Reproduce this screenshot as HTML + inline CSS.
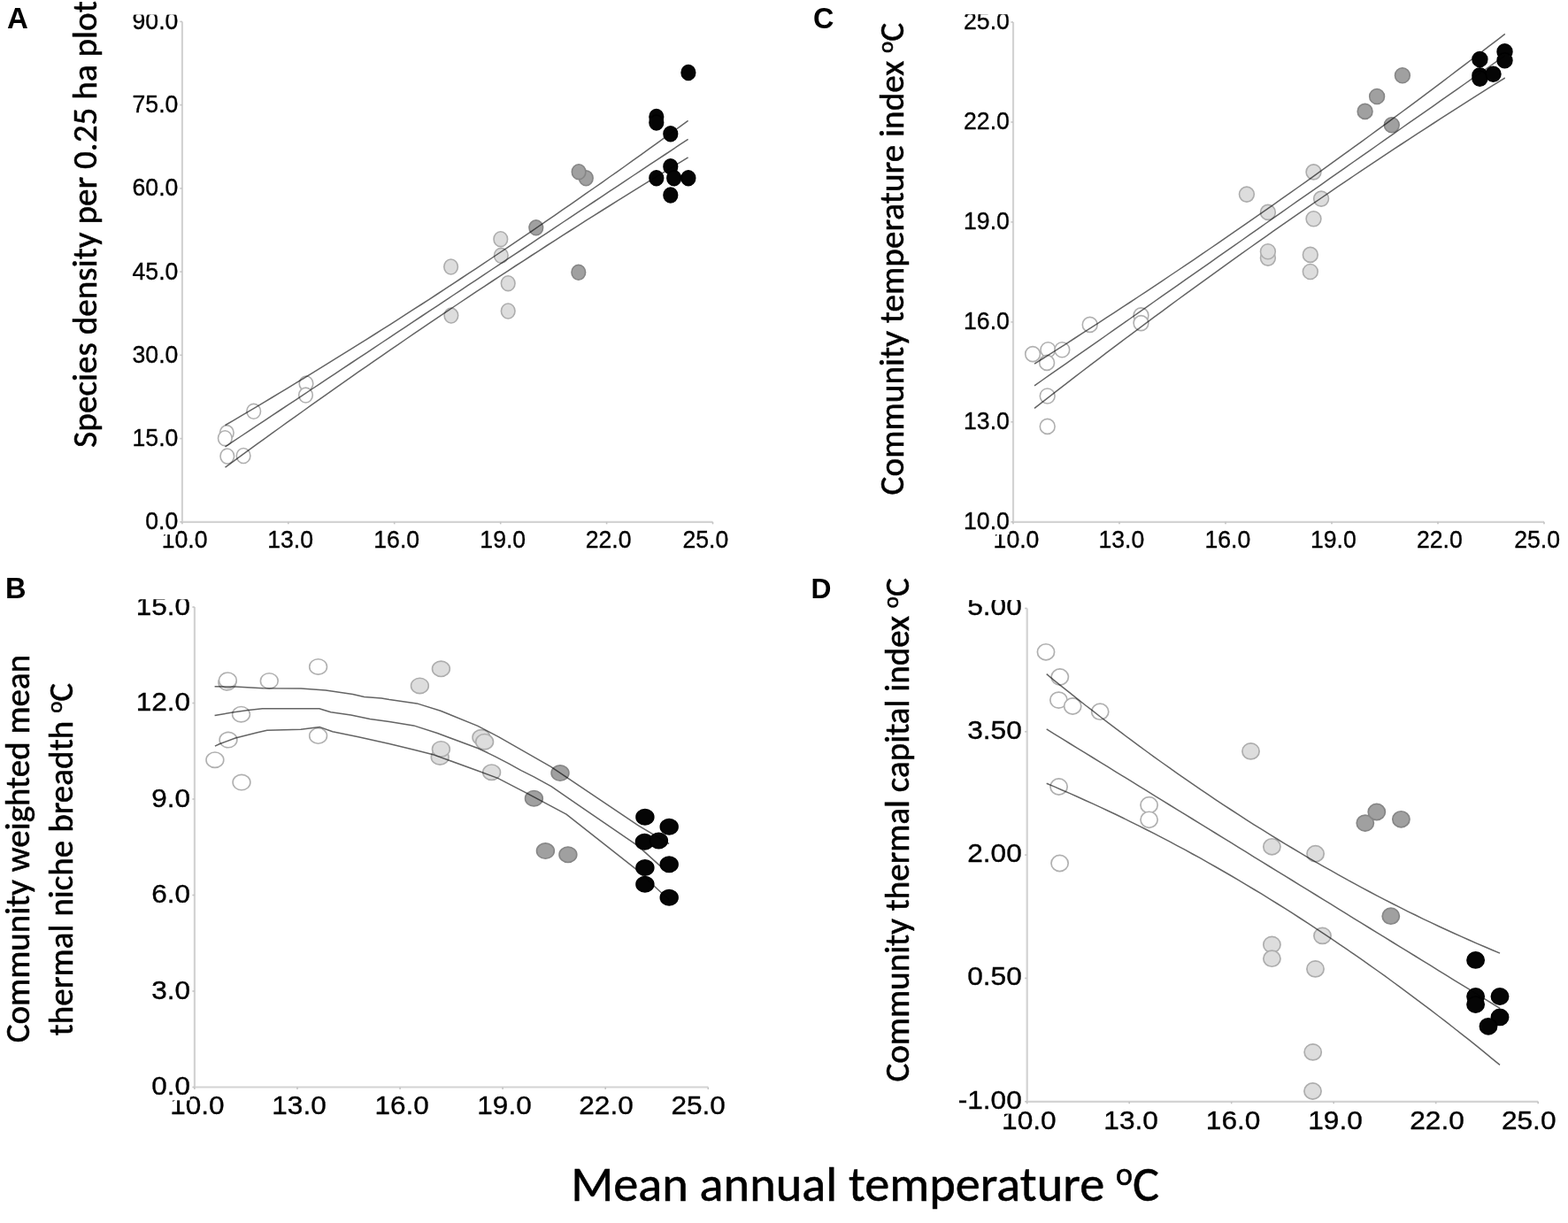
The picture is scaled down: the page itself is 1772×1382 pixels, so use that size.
<!DOCTYPE html>
<html><head><meta charset="utf-8"><title>Figure</title>
<style>html,body{margin:0;padding:0;background:#fff;}svg{display:block;}</style>
</head><body>
<svg width="1772" height="1382" viewBox="0 0 1772 1382">
<rect width="1772" height="1382" fill="#ffffff"/>
<path d="M205.9,24.4V589.8H805.5" fill="none" stroke="#d3d3d3" stroke-width="2.2"/>
<path d="M203.4,24.4h2.5" stroke="#c4c4c4" stroke-width="1.6"/>
<path d="M203.4,118.6h2.5" stroke="#c4c4c4" stroke-width="1.6"/>
<path d="M203.4,212.9h2.5" stroke="#c4c4c4" stroke-width="1.6"/>
<path d="M203.4,307.1h2.5" stroke="#c4c4c4" stroke-width="1.6"/>
<path d="M203.4,401.3h2.5" stroke="#c4c4c4" stroke-width="1.6"/>
<path d="M203.4,495.6h2.5" stroke="#c4c4c4" stroke-width="1.6"/>
<path d="M203.4,589.8h2.5" stroke="#c4c4c4" stroke-width="1.6"/>
<path d="M205.9,589.8v2.5" stroke="#c4c4c4" stroke-width="1.6"/>
<path d="M325.8,589.8v2.5" stroke="#c4c4c4" stroke-width="1.6"/>
<path d="M445.7,589.8v2.5" stroke="#c4c4c4" stroke-width="1.6"/>
<path d="M565.7,589.8v2.5" stroke="#c4c4c4" stroke-width="1.6"/>
<path d="M685.6,589.8v2.5" stroke="#c4c4c4" stroke-width="1.6"/>
<path d="M805.5,589.8v2.5" stroke="#c4c4c4" stroke-width="1.6"/>
<ellipse cx="256.3" cy="489.1" rx="7.80" ry="8.45" fill="#ffffff" stroke="#b0b0b0" stroke-width="1.6"/>
<ellipse cx="254.3" cy="495.2" rx="7.80" ry="8.45" fill="#ffffff" stroke="#b0b0b0" stroke-width="1.6"/>
<ellipse cx="256.8" cy="515.5" rx="7.80" ry="8.45" fill="#ffffff" stroke="#b0b0b0" stroke-width="1.6"/>
<ellipse cx="275.1" cy="515.0" rx="7.80" ry="8.45" fill="#ffffff" stroke="#b0b0b0" stroke-width="1.6"/>
<ellipse cx="286.7" cy="464.8" rx="7.80" ry="8.45" fill="#ffffff" stroke="#b0b0b0" stroke-width="1.6"/>
<ellipse cx="346.0" cy="433.4" rx="7.80" ry="8.45" fill="#ffffff" stroke="#b0b0b0" stroke-width="1.6"/>
<ellipse cx="345.5" cy="446.6" rx="7.80" ry="8.45" fill="#ffffff" stroke="#b0b0b0" stroke-width="1.6"/>
<ellipse cx="509.6" cy="301.5" rx="7.80" ry="8.45" fill="#dddddd" stroke="#adadad" stroke-width="1.6"/>
<ellipse cx="509.9" cy="356.6" rx="7.80" ry="8.45" fill="#dddddd" stroke="#adadad" stroke-width="1.6"/>
<ellipse cx="565.8" cy="270.2" rx="7.80" ry="8.45" fill="#dddddd" stroke="#adadad" stroke-width="1.6"/>
<ellipse cx="566.3" cy="288.8" rx="7.80" ry="8.45" fill="#dddddd" stroke="#adadad" stroke-width="1.6"/>
<ellipse cx="574.2" cy="320.2" rx="7.80" ry="8.45" fill="#dddddd" stroke="#adadad" stroke-width="1.6"/>
<ellipse cx="574.2" cy="351.5" rx="7.80" ry="8.45" fill="#dddddd" stroke="#adadad" stroke-width="1.6"/>
<ellipse cx="605.8" cy="257.2" rx="7.80" ry="8.45" fill="#a0a0a0" stroke="#868686" stroke-width="1.6"/>
<ellipse cx="653.8" cy="307.8" rx="7.80" ry="8.45" fill="#a0a0a0" stroke="#868686" stroke-width="1.6"/>
<ellipse cx="662.3" cy="201.3" rx="7.80" ry="8.45" fill="#a0a0a0" stroke="#868686" stroke-width="1.6"/>
<ellipse cx="654.1" cy="194.2" rx="7.80" ry="8.45" fill="#a0a0a0" stroke="#868686" stroke-width="1.6"/>
<ellipse cx="777.9" cy="81.9" rx="7.80" ry="8.45" fill="#050505" stroke="#000000" stroke-width="1.6"/>
<ellipse cx="741.8" cy="132.0" rx="7.80" ry="8.45" fill="#050505" stroke="#000000" stroke-width="1.6"/>
<ellipse cx="741.8" cy="138.4" rx="7.80" ry="8.45" fill="#050505" stroke="#000000" stroke-width="1.6"/>
<ellipse cx="757.8" cy="151.2" rx="7.80" ry="8.45" fill="#050505" stroke="#000000" stroke-width="1.6"/>
<ellipse cx="757.8" cy="188.3" rx="7.80" ry="8.45" fill="#050505" stroke="#000000" stroke-width="1.6"/>
<ellipse cx="741.8" cy="201.3" rx="7.80" ry="8.45" fill="#050505" stroke="#000000" stroke-width="1.6"/>
<ellipse cx="761.7" cy="201.3" rx="7.80" ry="8.45" fill="#050505" stroke="#000000" stroke-width="1.6"/>
<ellipse cx="777.9" cy="201.3" rx="7.80" ry="8.45" fill="#050505" stroke="#000000" stroke-width="1.6"/>
<ellipse cx="757.8" cy="220.5" rx="7.80" ry="8.45" fill="#050505" stroke="#000000" stroke-width="1.6"/>
<path d="M254.5,504.8 L263.4,498.9 L272.2,493.0 L281.1,487.1 L290.0,481.2 L298.8,475.3 L307.7,469.4 L316.6,463.5 L325.4,457.6 L334.3,451.8 L343.2,445.9 L352.0,440.0 L360.9,434.1 L369.8,428.2 L378.6,422.3 L387.5,416.4 L396.4,410.5 L405.2,404.6 L414.1,398.8 L423.0,392.9 L431.8,387.0 L440.7,381.1 L449.6,375.2 L458.4,369.3 L467.3,363.4 L476.2,357.5 L485.0,351.6 L493.9,345.8 L502.8,339.9 L511.6,334.0 L520.5,328.1 L529.3,322.2 L538.2,316.3 L547.1,310.4 L555.9,304.5 L564.8,298.6 L573.7,292.7 L582.5,286.9 L591.4,281.0 L600.3,275.1 L609.1,269.2 L618.0,263.3 L626.9,257.4 L635.7,251.5 L644.6,245.6 L653.5,239.7 L662.3,233.9 L671.2,228.0 L680.1,222.1 L688.9,216.2 L697.8,210.3 L706.7,204.4 L715.5,198.5 L724.4,192.6 L733.3,186.7 L742.1,180.9 L751.0,175.0 L759.9,169.1 L768.7,163.2 L777.6,157.3" fill="none" stroke="#646464" stroke-width="1.5" stroke-linejoin="round" style="mix-blend-mode:multiply"/>
<path d="M254.5,480.5 L263.4,475.3 L272.2,470.1 L281.1,464.8 L290.0,459.6 L298.8,454.3 L307.7,449.0 L316.6,443.7 L325.4,438.3 L334.3,432.9 L343.2,427.5 L352.0,422.1 L360.9,416.7 L369.8,411.2 L378.6,405.7 L387.5,400.2 L396.4,394.7 L405.2,389.2 L414.1,383.6 L423.0,378.0 L431.8,372.4 L440.7,366.8 L449.6,361.1 L458.4,355.4 L467.3,349.7 L476.2,344.0 L485.0,338.3 L493.9,332.5 L502.8,326.7 L511.6,320.9 L520.5,315.0 L529.3,309.2 L538.2,303.3 L547.1,297.4 L555.9,291.5 L564.8,285.5 L573.7,279.6 L582.5,273.6 L591.4,267.6 L600.3,261.6 L609.1,255.5 L618.0,249.4 L626.9,243.3 L635.7,237.2 L644.6,231.1 L653.5,224.9 L662.3,218.7 L671.2,212.5 L680.1,206.3 L688.9,200.0 L697.8,193.8 L706.7,187.5 L715.5,181.1 L724.4,174.8 L733.3,168.4 L742.1,162.1 L751.0,155.6 L759.9,149.2 L768.7,142.8 L777.6,136.3" fill="none" stroke="#646464" stroke-width="1.5" stroke-linejoin="round" style="mix-blend-mode:multiply"/>
<path d="M254.5,528.1 L263.4,521.6 L272.2,515.1 L281.1,508.6 L290.0,502.2 L298.8,495.8 L307.7,489.4 L316.6,483.0 L325.4,476.6 L334.3,470.3 L343.2,464.0 L352.0,457.7 L360.9,451.4 L369.8,445.1 L378.6,438.8 L387.5,432.6 L396.4,426.4 L405.2,420.2 L414.1,414.1 L423.0,407.9 L431.8,401.8 L440.7,395.7 L449.6,389.6 L458.4,383.5 L467.3,377.4 L476.2,371.4 L485.0,365.4 L493.9,359.4 L502.8,353.4 L511.6,347.5 L520.5,341.5 L529.3,335.6 L538.2,329.7 L547.1,323.8 L555.9,318.0 L564.8,312.1 L573.7,306.3 L582.5,300.5 L591.4,294.8 L600.3,289.0 L609.1,283.3 L618.0,277.5 L626.9,271.8 L635.7,266.1 L644.6,260.5 L653.5,254.8 L662.3,249.2 L671.2,243.6 L680.1,238.0 L688.9,232.5 L697.8,226.9 L706.7,221.4 L715.5,215.9 L724.4,210.4 L733.3,204.9 L742.1,199.5 L751.0,194.1 L759.9,188.6 L768.7,183.3 L777.6,177.9" fill="none" stroke="#646464" stroke-width="1.5" stroke-linejoin="round" style="mix-blend-mode:multiply"/>
<text transform="translate(182.67,618.80) scale(0.9750,1)" font-family="'Liberation Sans', Arial, sans-serif" font-size="27.30" stroke="#000" stroke-width="0.35">10.0</text>
<text transform="translate(302.27,618.80) scale(0.9750,1)" font-family="'Liberation Sans', Arial, sans-serif" font-size="27.30" stroke="#000" stroke-width="0.35">13.0</text>
<text transform="translate(422.32,618.80) scale(0.9750,1)" font-family="'Liberation Sans', Arial, sans-serif" font-size="27.30" stroke="#000" stroke-width="0.35">16.0</text>
<text transform="translate(542.37,618.80) scale(0.9750,1)" font-family="'Liberation Sans', Arial, sans-serif" font-size="27.30" stroke="#000" stroke-width="0.35">19.0</text>
<text transform="translate(661.65,618.80) scale(0.9750,1)" font-family="'Liberation Sans', Arial, sans-serif" font-size="27.30" stroke="#000" stroke-width="0.35">22.0</text>
<text transform="translate(771.50,618.80) scale(0.9750,1)" font-family="'Liberation Sans', Arial, sans-serif" font-size="27.30" stroke="#000" stroke-width="0.35">25.0</text>
<rect x="140" y="591.5" width="60.5" height="12.5" fill="#fff"/>
<text transform="translate(149.53,33.00) scale(0.9750,1)" font-family="'Liberation Sans', Arial, sans-serif" font-size="27.30" stroke="#000" stroke-width="0.35">90.0</text>
<text transform="translate(149.53,127.23) scale(0.9750,1)" font-family="'Liberation Sans', Arial, sans-serif" font-size="27.30" stroke="#000" stroke-width="0.35">75.0</text>
<text transform="translate(149.53,221.47) scale(0.9750,1)" font-family="'Liberation Sans', Arial, sans-serif" font-size="27.30" stroke="#000" stroke-width="0.35">60.0</text>
<text transform="translate(149.53,315.70) scale(0.9750,1)" font-family="'Liberation Sans', Arial, sans-serif" font-size="27.30" stroke="#000" stroke-width="0.35">45.0</text>
<text transform="translate(149.53,409.93) scale(0.9750,1)" font-family="'Liberation Sans', Arial, sans-serif" font-size="27.30" stroke="#000" stroke-width="0.35">30.0</text>
<text transform="translate(149.53,504.17) scale(0.9750,1)" font-family="'Liberation Sans', Arial, sans-serif" font-size="27.30" stroke="#000" stroke-width="0.35">15.0</text>
<text transform="translate(164.30,598.40) scale(0.9750,1)" font-family="'Liberation Sans', Arial, sans-serif" font-size="27.30" stroke="#000" stroke-width="0.35">0.0</text>
<path d="M1145.0,25.0V589.8H1745.0" fill="none" stroke="#d3d3d3" stroke-width="2.2"/>
<path d="M1142.5,25.0h2.5" stroke="#c4c4c4" stroke-width="1.6"/>
<path d="M1142.5,138.0h2.5" stroke="#c4c4c4" stroke-width="1.6"/>
<path d="M1142.5,250.9h2.5" stroke="#c4c4c4" stroke-width="1.6"/>
<path d="M1142.5,363.9h2.5" stroke="#c4c4c4" stroke-width="1.6"/>
<path d="M1142.5,476.8h2.5" stroke="#c4c4c4" stroke-width="1.6"/>
<path d="M1142.5,589.8h2.5" stroke="#c4c4c4" stroke-width="1.6"/>
<path d="M1145.0,589.8v2.5" stroke="#c4c4c4" stroke-width="1.6"/>
<path d="M1265.0,589.8v2.5" stroke="#c4c4c4" stroke-width="1.6"/>
<path d="M1385.0,589.8v2.5" stroke="#c4c4c4" stroke-width="1.6"/>
<path d="M1505.0,589.8v2.5" stroke="#c4c4c4" stroke-width="1.6"/>
<path d="M1625.0,589.8v2.5" stroke="#c4c4c4" stroke-width="1.6"/>
<path d="M1745.0,589.8v2.5" stroke="#c4c4c4" stroke-width="1.6"/>
<ellipse cx="1167.1" cy="400.1" rx="8.40" ry="8.50" fill="#ffffff" stroke="#b0b0b0" stroke-width="1.6"/>
<ellipse cx="1184.4" cy="395.2" rx="8.40" ry="8.50" fill="#ffffff" stroke="#b0b0b0" stroke-width="1.6"/>
<ellipse cx="1183.1" cy="409.9" rx="8.40" ry="8.50" fill="#ffffff" stroke="#b0b0b0" stroke-width="1.6"/>
<ellipse cx="1200.3" cy="395.2" rx="8.40" ry="8.50" fill="#ffffff" stroke="#b0b0b0" stroke-width="1.6"/>
<ellipse cx="1231.7" cy="366.9" rx="8.40" ry="8.50" fill="#ffffff" stroke="#b0b0b0" stroke-width="1.6"/>
<ellipse cx="1289.5" cy="356.4" rx="8.40" ry="8.50" fill="#ffffff" stroke="#b0b0b0" stroke-width="1.6"/>
<ellipse cx="1289.5" cy="365.1" rx="8.40" ry="8.50" fill="#ffffff" stroke="#b0b0b0" stroke-width="1.6"/>
<ellipse cx="1183.7" cy="447.5" rx="8.40" ry="8.50" fill="#ffffff" stroke="#b0b0b0" stroke-width="1.6"/>
<ellipse cx="1183.7" cy="481.9" rx="8.40" ry="8.50" fill="#ffffff" stroke="#b0b0b0" stroke-width="1.6"/>
<ellipse cx="1408.9" cy="219.6" rx="8.40" ry="8.50" fill="#dddddd" stroke="#adadad" stroke-width="1.6"/>
<ellipse cx="1432.9" cy="239.9" rx="8.40" ry="8.50" fill="#dddddd" stroke="#adadad" stroke-width="1.6"/>
<ellipse cx="1432.9" cy="291.6" rx="8.40" ry="8.50" fill="#dddddd" stroke="#adadad" stroke-width="1.6"/>
<ellipse cx="1432.9" cy="284.2" rx="8.40" ry="8.50" fill="#dddddd" stroke="#adadad" stroke-width="1.6"/>
<ellipse cx="1484.5" cy="194.4" rx="8.40" ry="8.50" fill="#dddddd" stroke="#adadad" stroke-width="1.6"/>
<ellipse cx="1493.1" cy="224.6" rx="8.40" ry="8.50" fill="#dddddd" stroke="#adadad" stroke-width="1.6"/>
<ellipse cx="1484.5" cy="247.3" rx="8.40" ry="8.50" fill="#dddddd" stroke="#adadad" stroke-width="1.6"/>
<ellipse cx="1480.8" cy="287.9" rx="8.40" ry="8.50" fill="#dddddd" stroke="#adadad" stroke-width="1.6"/>
<ellipse cx="1480.8" cy="307.0" rx="8.40" ry="8.50" fill="#dddddd" stroke="#adadad" stroke-width="1.6"/>
<ellipse cx="1584.9" cy="85.3" rx="8.40" ry="8.50" fill="#a0a0a0" stroke="#868686" stroke-width="1.6"/>
<ellipse cx="1556.1" cy="109.0" rx="8.40" ry="8.50" fill="#a0a0a0" stroke="#868686" stroke-width="1.6"/>
<ellipse cx="1542.6" cy="125.9" rx="8.40" ry="8.50" fill="#a0a0a0" stroke="#868686" stroke-width="1.6"/>
<ellipse cx="1572.8" cy="141.2" rx="8.40" ry="8.50" fill="#a0a0a0" stroke="#868686" stroke-width="1.6"/>
<ellipse cx="1672.4" cy="67.0" rx="8.40" ry="8.50" fill="#050505" stroke="#000000" stroke-width="1.6"/>
<ellipse cx="1672.4" cy="85.3" rx="8.40" ry="8.50" fill="#050505" stroke="#000000" stroke-width="1.6"/>
<ellipse cx="1672.4" cy="88.7" rx="8.40" ry="8.50" fill="#050505" stroke="#000000" stroke-width="1.6"/>
<ellipse cx="1687.5" cy="83.8" rx="8.40" ry="8.50" fill="#050505" stroke="#000000" stroke-width="1.6"/>
<ellipse cx="1700.5" cy="58.4" rx="8.40" ry="8.50" fill="#050505" stroke="#000000" stroke-width="1.6"/>
<ellipse cx="1700.5" cy="68.2" rx="8.40" ry="8.50" fill="#050505" stroke="#000000" stroke-width="1.6"/>
<path d="M1169.0,435.8 L1178.0,429.5 L1187.0,423.2 L1196.0,416.9 L1205.1,410.6 L1214.1,404.2 L1223.1,397.9 L1232.1,391.6 L1241.1,385.3 L1250.1,379.0 L1259.1,372.6 L1268.1,366.3 L1277.2,360.0 L1286.2,353.7 L1295.2,347.3 L1304.2,341.0 L1313.2,334.7 L1322.2,328.4 L1331.2,322.1 L1340.3,315.7 L1349.3,309.4 L1358.3,303.1 L1367.3,296.8 L1376.3,290.4 L1385.3,284.1 L1394.3,277.8 L1403.4,271.5 L1412.4,265.2 L1421.4,258.8 L1430.4,252.5 L1439.4,246.2 L1448.4,239.9 L1457.4,233.5 L1466.4,227.2 L1475.5,220.9 L1484.5,214.6 L1493.5,208.3 L1502.5,201.9 L1511.5,195.6 L1520.5,189.3 L1529.5,183.0 L1538.6,176.6 L1547.6,170.3 L1556.6,164.0 L1565.6,157.7 L1574.6,151.4 L1583.6,145.0 L1592.6,138.7 L1601.7,132.4 L1610.7,126.1 L1619.7,119.8 L1628.7,113.4 L1637.7,107.1 L1646.7,100.8 L1655.7,94.5 L1664.7,88.1 L1673.8,81.8 L1682.8,75.5 L1691.8,69.2 L1700.8,62.9" fill="none" stroke="#646464" stroke-width="1.5" stroke-linejoin="round" style="mix-blend-mode:multiply"/>
<path d="M1169.0,411.2 L1178.0,405.5 L1187.0,399.8 L1196.0,394.1 L1205.1,388.3 L1214.1,382.5 L1223.1,376.7 L1232.1,370.9 L1241.1,365.1 L1250.1,359.2 L1259.1,353.3 L1268.1,347.4 L1277.2,341.5 L1286.2,335.5 L1295.2,329.6 L1304.2,323.6 L1313.2,317.6 L1322.2,311.5 L1331.2,305.5 L1340.3,299.4 L1349.3,293.3 L1358.3,287.1 L1367.3,281.0 L1376.3,274.8 L1385.3,268.6 L1394.3,262.4 L1403.4,256.2 L1412.4,249.9 L1421.4,243.7 L1430.4,237.4 L1439.4,231.1 L1448.4,224.7 L1457.4,218.3 L1466.4,212.0 L1475.5,205.6 L1484.5,199.1 L1493.5,192.7 L1502.5,186.2 L1511.5,179.7 L1520.5,173.2 L1529.5,166.7 L1538.6,160.1 L1547.6,153.5 L1556.6,146.9 L1565.6,140.3 L1574.6,133.6 L1583.6,127.0 L1592.6,120.3 L1601.7,113.6 L1610.7,106.8 L1619.7,100.1 L1628.7,93.3 L1637.7,86.5 L1646.7,79.7 L1655.7,72.9 L1664.7,66.0 L1673.8,59.1 L1682.8,52.2 L1691.8,45.3 L1700.8,38.3" fill="none" stroke="#646464" stroke-width="1.5" stroke-linejoin="round" style="mix-blend-mode:multiply"/>
<path d="M1169.0,461.4 L1178.0,454.3 L1187.0,447.3 L1196.0,440.3 L1205.1,433.4 L1214.1,426.4 L1223.1,419.5 L1232.1,412.6 L1241.1,405.8 L1250.1,398.9 L1259.1,392.1 L1268.1,385.3 L1277.2,378.6 L1286.2,371.8 L1295.2,365.1 L1304.2,358.4 L1313.2,351.8 L1322.2,345.1 L1331.2,338.5 L1340.3,331.9 L1349.3,325.3 L1358.3,318.8 L1367.3,312.3 L1376.3,305.8 L1385.3,299.3 L1394.3,292.8 L1403.4,286.4 L1412.4,280.0 L1421.4,273.6 L1430.4,267.3 L1439.4,260.9 L1448.4,254.6 L1457.4,248.4 L1466.4,242.1 L1475.5,235.9 L1484.5,229.7 L1493.5,223.5 L1502.5,217.3 L1511.5,211.2 L1520.5,205.1 L1529.5,199.0 L1538.6,192.9 L1547.6,186.9 L1556.6,180.9 L1565.6,174.9 L1574.6,168.9 L1583.6,163.0 L1592.6,157.1 L1601.7,151.2 L1610.7,145.3 L1619.7,139.5 L1628.7,133.6 L1637.7,127.8 L1646.7,122.1 L1655.7,116.3 L1664.7,110.6 L1673.8,104.9 L1682.8,99.2 L1691.8,93.6 L1700.8,88.0" fill="none" stroke="#646464" stroke-width="1.5" stroke-linejoin="round" style="mix-blend-mode:multiply"/>
<text transform="translate(1122.62,619.30) scale(0.9750,1)" font-family="'Liberation Sans', Arial, sans-serif" font-size="27.30" stroke="#000" stroke-width="0.35">10.0</text>
<text transform="translate(1241.42,619.30) scale(0.9750,1)" font-family="'Liberation Sans', Arial, sans-serif" font-size="27.30" stroke="#000" stroke-width="0.35">13.0</text>
<text transform="translate(1361.42,619.30) scale(0.9750,1)" font-family="'Liberation Sans', Arial, sans-serif" font-size="27.30" stroke="#000" stroke-width="0.35">16.0</text>
<text transform="translate(1480.92,619.30) scale(0.9750,1)" font-family="'Liberation Sans', Arial, sans-serif" font-size="27.30" stroke="#000" stroke-width="0.35">19.0</text>
<text transform="translate(1600.95,619.30) scale(0.9750,1)" font-family="'Liberation Sans', Arial, sans-serif" font-size="27.30" stroke="#000" stroke-width="0.35">22.0</text>
<text transform="translate(1711.25,619.30) scale(0.9750,1)" font-family="'Liberation Sans', Arial, sans-serif" font-size="27.30" stroke="#000" stroke-width="0.35">25.0</text>
<rect x="1075" y="591.5" width="65.5" height="12.5" fill="#fff"/>
<text transform="translate(1089.03,33.30) scale(0.9750,1)" font-family="'Liberation Sans', Arial, sans-serif" font-size="27.30" stroke="#000" stroke-width="0.35">25.0</text>
<text transform="translate(1089.03,146.26) scale(0.9750,1)" font-family="'Liberation Sans', Arial, sans-serif" font-size="27.30" stroke="#000" stroke-width="0.35">22.0</text>
<text transform="translate(1089.03,259.22) scale(0.9750,1)" font-family="'Liberation Sans', Arial, sans-serif" font-size="27.30" stroke="#000" stroke-width="0.35">19.0</text>
<text transform="translate(1089.03,372.18) scale(0.9750,1)" font-family="'Liberation Sans', Arial, sans-serif" font-size="27.30" stroke="#000" stroke-width="0.35">16.0</text>
<text transform="translate(1089.03,485.14) scale(0.9750,1)" font-family="'Liberation Sans', Arial, sans-serif" font-size="27.30" stroke="#000" stroke-width="0.35">13.0</text>
<text transform="translate(1089.03,598.10) scale(0.9750,1)" font-family="'Liberation Sans', Arial, sans-serif" font-size="27.30" stroke="#000" stroke-width="0.35">10.0</text>
<path d="M219.9,686.0V1228.5H800.3" fill="none" stroke="#d3d3d3" stroke-width="2.2"/>
<path d="M217.4,686.0h2.5" stroke="#c4c4c4" stroke-width="1.6"/>
<path d="M217.4,794.5h2.5" stroke="#c4c4c4" stroke-width="1.6"/>
<path d="M217.4,903.0h2.5" stroke="#c4c4c4" stroke-width="1.6"/>
<path d="M217.4,1011.5h2.5" stroke="#c4c4c4" stroke-width="1.6"/>
<path d="M217.4,1120.0h2.5" stroke="#c4c4c4" stroke-width="1.6"/>
<path d="M217.4,1228.5h2.5" stroke="#c4c4c4" stroke-width="1.6"/>
<path d="M219.9,1228.5v2.5" stroke="#c4c4c4" stroke-width="1.6"/>
<path d="M336.0,1228.5v2.5" stroke="#c4c4c4" stroke-width="1.6"/>
<path d="M452.1,1228.5v2.5" stroke="#c4c4c4" stroke-width="1.6"/>
<path d="M568.1,1228.5v2.5" stroke="#c4c4c4" stroke-width="1.6"/>
<path d="M684.2,1228.5v2.5" stroke="#c4c4c4" stroke-width="1.6"/>
<path d="M800.3,1228.5v2.5" stroke="#c4c4c4" stroke-width="1.6"/>
<ellipse cx="256.8" cy="771.2" rx="9.90" ry="8.70" fill="#ffffff" stroke="#b0b0b0" stroke-width="1.6"/>
<ellipse cx="257.4" cy="768.7" rx="9.90" ry="8.70" fill="#ffffff" stroke="#b0b0b0" stroke-width="1.6"/>
<ellipse cx="304.3" cy="769.4" rx="9.90" ry="8.70" fill="#ffffff" stroke="#b0b0b0" stroke-width="1.6"/>
<ellipse cx="359.6" cy="753.4" rx="9.90" ry="8.70" fill="#ffffff" stroke="#b0b0b0" stroke-width="1.6"/>
<ellipse cx="272.5" cy="807.2" rx="9.90" ry="8.70" fill="#ffffff" stroke="#b0b0b0" stroke-width="1.6"/>
<ellipse cx="258.0" cy="836.1" rx="9.90" ry="8.70" fill="#ffffff" stroke="#b0b0b0" stroke-width="1.6"/>
<ellipse cx="359.6" cy="831.5" rx="9.90" ry="8.70" fill="#ffffff" stroke="#b0b0b0" stroke-width="1.6"/>
<ellipse cx="242.9" cy="858.7" rx="9.90" ry="8.70" fill="#ffffff" stroke="#b0b0b0" stroke-width="1.6"/>
<ellipse cx="273.0" cy="884.1" rx="9.90" ry="8.70" fill="#ffffff" stroke="#b0b0b0" stroke-width="1.6"/>
<ellipse cx="474.4" cy="774.9" rx="9.90" ry="8.70" fill="#dddddd" stroke="#adadad" stroke-width="1.6"/>
<ellipse cx="498.4" cy="755.8" rx="9.90" ry="8.70" fill="#dddddd" stroke="#adadad" stroke-width="1.6"/>
<ellipse cx="497.2" cy="855.4" rx="9.90" ry="8.70" fill="#dddddd" stroke="#adadad" stroke-width="1.6"/>
<ellipse cx="498.4" cy="846.4" rx="9.90" ry="8.70" fill="#dddddd" stroke="#adadad" stroke-width="1.6"/>
<ellipse cx="543.9" cy="833.3" rx="9.90" ry="8.70" fill="#dddddd" stroke="#adadad" stroke-width="1.6"/>
<ellipse cx="547.6" cy="838.2" rx="9.90" ry="8.70" fill="#dddddd" stroke="#adadad" stroke-width="1.6"/>
<ellipse cx="555.6" cy="872.7" rx="9.90" ry="8.70" fill="#dddddd" stroke="#adadad" stroke-width="1.6"/>
<ellipse cx="603.4" cy="902.2" rx="9.90" ry="8.70" fill="#a0a0a0" stroke="#868686" stroke-width="1.6"/>
<ellipse cx="633.0" cy="873.6" rx="9.90" ry="8.70" fill="#a0a0a0" stroke="#868686" stroke-width="1.6"/>
<ellipse cx="616.4" cy="961.6" rx="9.90" ry="8.70" fill="#a0a0a0" stroke="#868686" stroke-width="1.6"/>
<ellipse cx="641.9" cy="965.8" rx="9.90" ry="8.70" fill="#a0a0a0" stroke="#868686" stroke-width="1.6"/>
<ellipse cx="728.9" cy="923.3" rx="9.90" ry="8.70" fill="#050505" stroke="#000000" stroke-width="1.6"/>
<ellipse cx="756.2" cy="934.3" rx="9.90" ry="8.70" fill="#050505" stroke="#000000" stroke-width="1.6"/>
<ellipse cx="728.4" cy="951.3" rx="9.90" ry="8.70" fill="#050505" stroke="#000000" stroke-width="1.6"/>
<ellipse cx="744.4" cy="949.9" rx="9.90" ry="8.70" fill="#050505" stroke="#000000" stroke-width="1.6"/>
<ellipse cx="756.2" cy="976.7" rx="9.90" ry="8.70" fill="#050505" stroke="#000000" stroke-width="1.6"/>
<ellipse cx="728.9" cy="980.4" rx="9.90" ry="8.70" fill="#050505" stroke="#000000" stroke-width="1.6"/>
<ellipse cx="728.9" cy="999.2" rx="9.90" ry="8.70" fill="#050505" stroke="#000000" stroke-width="1.6"/>
<ellipse cx="756.2" cy="1014.3" rx="9.90" ry="8.70" fill="#050505" stroke="#000000" stroke-width="1.6"/>
<path d="M242.6,775.7 L266.0,776.1 L297.3,777.7 L340.0,778.0 L368.0,780.0 L398.6,784.5 L411.6,787.5 L431.1,789.1 L440.0,790.6 L471.1,794.9 L497.9,803.2 L540.0,820.4 L563.4,832.6 L622.5,866.4 L640.0,878.2 L721.4,932.9 L756.1,953.5" fill="none" stroke="#646464" stroke-width="1.5" stroke-linejoin="round" style="mix-blend-mode:multiply"/>
<path d="M242.6,808.6 L262.8,805.0 L280.4,802.4 L296.6,800.8 L360.8,800.8 L373.9,804.7 L396.6,808.0 L418.1,812.5 L440.0,815.6 L467.5,819.9 L494.3,828.5 L540.0,845.5 L551.3,850.8 L560.0,855.2 L574.5,862.7 L588.9,870.7 L603.4,877.9 L623.0,888.7 L640.0,900.3 L660.0,914.1 L719.2,954.6 L726.8,961.1 L744.2,976.9 L754.0,985.5" fill="none" stroke="#646464" stroke-width="1.5" stroke-linejoin="round" style="mix-blend-mode:multiply"/>
<path d="M242.9,843.1 L248.5,840.5 L266.0,834.0 L290.8,827.8 L301.8,825.2 L340.0,824.2 L361.5,821.6 L375.8,826.8 L405.1,832.7 L440.0,840.5 L468.9,847.4 L490.6,853.1 L540.0,871.0 L562.6,879.4 L596.4,896.8 L640.0,920.2 L718.1,981.7 L746.3,1007.8 L756.0,1016.5" fill="none" stroke="#646464" stroke-width="1.5" stroke-linejoin="round" style="mix-blend-mode:multiply"/>
<text transform="translate(192.25,1258.50) scale(1.0650,1)" font-family="'Liberation Sans', Arial, sans-serif" font-size="29.60" stroke="#000" stroke-width="0.35">10.0</text>
<text transform="translate(307.35,1258.50) scale(1.0650,1)" font-family="'Liberation Sans', Arial, sans-serif" font-size="29.60" stroke="#000" stroke-width="0.35">13.0</text>
<text transform="translate(423.55,1258.50) scale(1.0650,1)" font-family="'Liberation Sans', Arial, sans-serif" font-size="29.60" stroke="#000" stroke-width="0.35">16.0</text>
<text transform="translate(539.35,1258.50) scale(1.0650,1)" font-family="'Liberation Sans', Arial, sans-serif" font-size="29.60" stroke="#000" stroke-width="0.35">19.0</text>
<text transform="translate(654.35,1258.50) scale(1.0650,1)" font-family="'Liberation Sans', Arial, sans-serif" font-size="29.60" stroke="#000" stroke-width="0.35">22.0</text>
<text transform="translate(758.45,1258.50) scale(1.0650,1)" font-family="'Liberation Sans', Arial, sans-serif" font-size="29.60" stroke="#000" stroke-width="0.35">25.0</text>
<rect x="150" y="1230.5" width="64.7" height="12.9" fill="#fff"/>
<text transform="translate(153.67,694.60) scale(1.0650,1)" font-family="'Liberation Sans', Arial, sans-serif" font-size="29.60" stroke="#000" stroke-width="0.35">15.0</text>
<text transform="translate(153.67,803.10) scale(1.0650,1)" font-family="'Liberation Sans', Arial, sans-serif" font-size="29.60" stroke="#000" stroke-width="0.35">12.0</text>
<text transform="translate(171.16,911.60) scale(1.0650,1)" font-family="'Liberation Sans', Arial, sans-serif" font-size="29.60" stroke="#000" stroke-width="0.35">9.0</text>
<text transform="translate(171.16,1020.10) scale(1.0650,1)" font-family="'Liberation Sans', Arial, sans-serif" font-size="29.60" stroke="#000" stroke-width="0.35">6.0</text>
<text transform="translate(171.16,1128.60) scale(1.0650,1)" font-family="'Liberation Sans', Arial, sans-serif" font-size="29.60" stroke="#000" stroke-width="0.35">3.0</text>
<text transform="translate(171.16,1237.10) scale(1.0650,1)" font-family="'Liberation Sans', Arial, sans-serif" font-size="29.60" stroke="#000" stroke-width="0.35">0.0</text>
<path d="M1160.7,687.4V1244.8H1738.2" fill="none" stroke="#d3d3d3" stroke-width="2.2"/>
<path d="M1158.2,687.4h2.5" stroke="#c4c4c4" stroke-width="1.6"/>
<path d="M1158.2,826.8h2.5" stroke="#c4c4c4" stroke-width="1.6"/>
<path d="M1158.2,966.1h2.5" stroke="#c4c4c4" stroke-width="1.6"/>
<path d="M1158.2,1105.4h2.5" stroke="#c4c4c4" stroke-width="1.6"/>
<path d="M1158.2,1244.8h2.5" stroke="#c4c4c4" stroke-width="1.6"/>
<path d="M1160.7,1244.8v2.5" stroke="#c4c4c4" stroke-width="1.6"/>
<path d="M1276.2,1244.8v2.5" stroke="#c4c4c4" stroke-width="1.6"/>
<path d="M1391.7,1244.8v2.5" stroke="#c4c4c4" stroke-width="1.6"/>
<path d="M1507.2,1244.8v2.5" stroke="#c4c4c4" stroke-width="1.6"/>
<path d="M1622.7,1244.8v2.5" stroke="#c4c4c4" stroke-width="1.6"/>
<path d="M1738.2,1244.8v2.5" stroke="#c4c4c4" stroke-width="1.6"/>
<ellipse cx="1182.0" cy="736.8" rx="9.60" ry="9.05" fill="#ffffff" stroke="#b0b0b0" stroke-width="1.7"/>
<ellipse cx="1197.8" cy="765.0" rx="9.60" ry="9.05" fill="#ffffff" stroke="#b0b0b0" stroke-width="1.7"/>
<ellipse cx="1196.4" cy="791.1" rx="9.60" ry="9.05" fill="#ffffff" stroke="#b0b0b0" stroke-width="1.7"/>
<ellipse cx="1212.2" cy="798.0" rx="9.60" ry="9.05" fill="#ffffff" stroke="#b0b0b0" stroke-width="1.7"/>
<ellipse cx="1243.2" cy="804.2" rx="9.60" ry="9.05" fill="#ffffff" stroke="#b0b0b0" stroke-width="1.7"/>
<ellipse cx="1196.6" cy="889.0" rx="9.60" ry="9.05" fill="#ffffff" stroke="#b0b0b0" stroke-width="1.7"/>
<ellipse cx="1298.6" cy="909.7" rx="9.60" ry="9.05" fill="#ffffff" stroke="#b0b0b0" stroke-width="1.7"/>
<ellipse cx="1298.6" cy="926.3" rx="9.60" ry="9.05" fill="#ffffff" stroke="#b0b0b0" stroke-width="1.7"/>
<ellipse cx="1197.6" cy="975.5" rx="9.60" ry="9.05" fill="#ffffff" stroke="#b0b0b0" stroke-width="1.7"/>
<ellipse cx="1413.5" cy="848.9" rx="9.60" ry="9.05" fill="#dddddd" stroke="#adadad" stroke-width="1.7"/>
<ellipse cx="1437.4" cy="956.8" rx="9.60" ry="9.05" fill="#dddddd" stroke="#adadad" stroke-width="1.7"/>
<ellipse cx="1486.6" cy="964.7" rx="9.60" ry="9.05" fill="#dddddd" stroke="#adadad" stroke-width="1.7"/>
<ellipse cx="1437.4" cy="1067.4" rx="9.60" ry="9.05" fill="#dddddd" stroke="#adadad" stroke-width="1.7"/>
<ellipse cx="1437.4" cy="1083.2" rx="9.60" ry="9.05" fill="#dddddd" stroke="#adadad" stroke-width="1.7"/>
<ellipse cx="1494.5" cy="1057.4" rx="9.60" ry="9.05" fill="#dddddd" stroke="#adadad" stroke-width="1.7"/>
<ellipse cx="1486.5" cy="1094.9" rx="9.60" ry="9.05" fill="#dddddd" stroke="#adadad" stroke-width="1.7"/>
<ellipse cx="1483.7" cy="1188.9" rx="9.60" ry="9.05" fill="#dddddd" stroke="#adadad" stroke-width="1.7"/>
<ellipse cx="1483.5" cy="1233.0" rx="9.60" ry="9.05" fill="#dddddd" stroke="#adadad" stroke-width="1.7"/>
<ellipse cx="1542.8" cy="930.1" rx="9.60" ry="9.05" fill="#a0a0a0" stroke="#868686" stroke-width="1.7"/>
<ellipse cx="1555.8" cy="917.5" rx="9.60" ry="9.05" fill="#a0a0a0" stroke="#868686" stroke-width="1.7"/>
<ellipse cx="1583.4" cy="925.8" rx="9.60" ry="9.05" fill="#a0a0a0" stroke="#868686" stroke-width="1.7"/>
<ellipse cx="1571.8" cy="1035.2" rx="9.60" ry="9.05" fill="#a0a0a0" stroke="#868686" stroke-width="1.7"/>
<ellipse cx="1667.6" cy="1084.9" rx="9.60" ry="9.05" fill="#050505" stroke="#000000" stroke-width="1.7"/>
<ellipse cx="1667.6" cy="1126.0" rx="9.60" ry="9.05" fill="#050505" stroke="#000000" stroke-width="1.7"/>
<ellipse cx="1667.6" cy="1135.1" rx="9.60" ry="9.05" fill="#050505" stroke="#000000" stroke-width="1.7"/>
<ellipse cx="1695.0" cy="1126.0" rx="9.60" ry="9.05" fill="#050505" stroke="#000000" stroke-width="1.7"/>
<ellipse cx="1695.0" cy="1149.4" rx="9.60" ry="9.05" fill="#050505" stroke="#000000" stroke-width="1.7"/>
<ellipse cx="1682.0" cy="1159.8" rx="9.60" ry="9.05" fill="#050505" stroke="#000000" stroke-width="1.7"/>
<path d="M1182.7,823.9 L1191.4,829.3 L1200.1,834.6 L1208.7,840.0 L1217.4,845.3 L1226.1,850.7 L1234.8,856.0 L1243.5,861.4 L1252.2,866.7 L1260.8,872.1 L1269.5,877.4 L1278.2,882.7 L1286.9,888.1 L1295.6,893.4 L1304.3,898.8 L1312.9,904.1 L1321.6,909.5 L1330.3,914.8 L1339.0,920.2 L1347.7,925.5 L1356.4,930.9 L1365.0,936.2 L1373.7,941.5 L1382.4,946.9 L1391.1,952.2 L1399.8,957.6 L1408.5,962.9 L1417.1,968.3 L1425.8,973.6 L1434.5,979.0 L1443.2,984.3 L1451.9,989.7 L1460.6,995.0 L1469.2,1000.3 L1477.9,1005.7 L1486.6,1011.0 L1495.3,1016.4 L1504.0,1021.7 L1512.7,1027.1 L1521.3,1032.4 L1530.0,1037.8 L1538.7,1043.1 L1547.4,1048.5 L1556.1,1053.8 L1564.8,1059.1 L1573.4,1064.5 L1582.1,1069.8 L1590.8,1075.2 L1599.5,1080.5 L1608.2,1085.9 L1616.9,1091.2 L1625.5,1096.6 L1634.2,1101.9 L1642.9,1107.3 L1651.6,1112.6 L1660.3,1117.9 L1669.0,1123.3 L1677.6,1128.6 L1686.3,1134.0 L1695.0,1139.3" fill="none" stroke="#646464" stroke-width="1.5" stroke-linejoin="round" style="mix-blend-mode:multiply"/>
<path d="M1182.7,761.7 L1191.4,768.8 L1200.1,775.8 L1208.7,782.7 L1217.4,789.6 L1226.1,796.5 L1234.8,803.2 L1243.5,810.0 L1252.2,816.6 L1260.8,823.2 L1269.5,829.7 L1278.2,836.2 L1286.9,842.6 L1295.6,849.0 L1304.3,855.3 L1312.9,861.5 L1321.6,867.7 L1330.3,873.8 L1339.0,879.9 L1347.7,885.9 L1356.4,891.9 L1365.0,897.7 L1373.7,903.6 L1382.4,909.3 L1391.1,915.0 L1399.8,920.7 L1408.5,926.3 L1417.1,931.8 L1425.8,937.2 L1434.5,942.6 L1443.2,948.0 L1451.9,953.3 L1460.6,958.5 L1469.2,963.7 L1477.9,968.8 L1486.6,973.8 L1495.3,978.8 L1504.0,983.7 L1512.7,988.6 L1521.3,993.4 L1530.0,998.2 L1538.7,1002.9 L1547.4,1007.5 L1556.1,1012.1 L1564.8,1016.6 L1573.4,1021.0 L1582.1,1025.4 L1590.8,1029.8 L1599.5,1034.0 L1608.2,1038.3 L1616.9,1042.4 L1625.5,1046.5 L1634.2,1050.5 L1642.9,1054.5 L1651.6,1058.4 L1660.3,1062.3 L1669.0,1066.1 L1677.6,1069.8 L1686.3,1073.5 L1695.0,1077.1" fill="none" stroke="#646464" stroke-width="1.5" stroke-linejoin="round" style="mix-blend-mode:multiply"/>
<path d="M1182.7,885.3 L1191.4,888.9 L1200.1,892.7 L1208.7,896.4 L1217.4,900.3 L1226.1,904.2 L1234.8,908.1 L1243.5,912.1 L1252.2,916.2 L1260.8,920.3 L1269.5,924.5 L1278.2,928.8 L1286.9,933.1 L1295.6,937.5 L1304.3,941.9 L1312.9,946.4 L1321.6,950.9 L1330.3,955.6 L1339.0,960.2 L1347.7,965.0 L1356.4,969.7 L1365.0,974.6 L1373.7,979.5 L1382.4,984.5 L1391.1,989.5 L1399.8,994.6 L1408.5,999.8 L1417.1,1005.0 L1425.8,1010.2 L1434.5,1015.6 L1443.2,1021.0 L1451.9,1026.4 L1460.6,1031.9 L1469.2,1037.5 L1477.9,1043.1 L1486.6,1048.8 L1495.3,1054.6 L1504.0,1060.4 L1512.7,1066.3 L1521.3,1072.2 L1530.0,1078.2 L1538.7,1084.2 L1547.4,1090.3 L1556.1,1096.5 L1564.8,1102.7 L1573.4,1109.0 L1582.1,1115.4 L1590.8,1121.8 L1599.5,1128.3 L1608.2,1134.8 L1616.9,1141.4 L1625.5,1148.0 L1634.2,1154.7 L1642.9,1161.5 L1651.6,1168.3 L1660.3,1175.2 L1669.0,1182.2 L1677.6,1189.2 L1686.3,1196.3 L1695.0,1203.4" fill="none" stroke="#646464" stroke-width="1.5" stroke-linejoin="round" style="mix-blend-mode:multiply"/>
<text transform="translate(1132.11,1275.80) scale(1.0700,1)" font-family="'Liberation Sans', Arial, sans-serif" font-size="29.60" stroke="#000" stroke-width="0.35">10.0</text>
<text transform="translate(1247.31,1275.80) scale(1.0700,1)" font-family="'Liberation Sans', Arial, sans-serif" font-size="29.60" stroke="#000" stroke-width="0.35">13.0</text>
<text transform="translate(1362.81,1275.80) scale(1.0700,1)" font-family="'Liberation Sans', Arial, sans-serif" font-size="29.60" stroke="#000" stroke-width="0.35">16.0</text>
<text transform="translate(1478.21,1275.80) scale(1.0700,1)" font-family="'Liberation Sans', Arial, sans-serif" font-size="29.60" stroke="#000" stroke-width="0.35">19.0</text>
<text transform="translate(1593.20,1275.80) scale(1.0700,1)" font-family="'Liberation Sans', Arial, sans-serif" font-size="29.60" stroke="#000" stroke-width="0.35">22.0</text>
<text transform="translate(1696.90,1275.80) scale(1.0700,1)" font-family="'Liberation Sans', Arial, sans-serif" font-size="29.60" stroke="#000" stroke-width="0.35">25.0</text>
<rect x="1075" y="1246.5" width="79.0" height="12.1" fill="#fff"/>
<text transform="translate(1093.19,695.40) scale(1.0700,1)" font-family="'Liberation Sans', Arial, sans-serif" font-size="29.60" stroke="#000" stroke-width="0.35">5.00</text>
<text transform="translate(1093.19,834.75) scale(1.0700,1)" font-family="'Liberation Sans', Arial, sans-serif" font-size="29.60" stroke="#000" stroke-width="0.35">3.50</text>
<text transform="translate(1093.19,974.10) scale(1.0700,1)" font-family="'Liberation Sans', Arial, sans-serif" font-size="29.60" stroke="#000" stroke-width="0.35">2.00</text>
<text transform="translate(1093.19,1113.45) scale(1.0700,1)" font-family="'Liberation Sans', Arial, sans-serif" font-size="29.60" stroke="#000" stroke-width="0.35">0.50</text>
<text transform="translate(1082.65,1252.80) scale(1.0700,1)" font-family="'Liberation Sans', Arial, sans-serif" font-size="29.60" stroke="#000" stroke-width="0.35">-1.00</text>
<rect x="140" y="0" width="70" height="16.6" fill="#fff"/>
<rect x="1080" y="0" width="70" height="16.2" fill="#fff"/>
<rect x="150" y="660" width="70" height="17.2" fill="#fff"/>
<rect x="1090" y="660" width="70" height="18.1" fill="#fff"/>
<text transform="translate(7.98,31.80) scale(1.0000,1)" font-family="'Liberation Sans', Arial, sans-serif" font-size="33.00" font-weight="bold">A</text>
<text transform="translate(5.90,675.90) scale(1.0000,1)" font-family="'Liberation Sans', Arial, sans-serif" font-size="32.60" font-weight="bold">B</text>
<text transform="translate(919.00,32.00) scale(1.0000,1)" font-family="'Liberation Sans', Arial, sans-serif" font-size="32.40" font-weight="bold">C</text>
<text transform="translate(916.45,675.90) scale(1.0000,1)" font-family="'Liberation Sans', Arial, sans-serif" font-size="31.80" font-weight="bold">D</text>
<text transform="translate(109.10,505.68) rotate(-90)" font-family="Carlito, 'Liberation Sans', sans-serif" style="font-size-adjust:0.4775" font-size="39.19" stroke="#000" stroke-width="0.55" textLength="504.6" lengthAdjust="spacingAndGlyphs">Species density per 0.25 ha plot</text>
<text transform="translate(33.10,1178.27) rotate(-90)" font-family="Carlito, 'Liberation Sans', sans-serif" style="font-size-adjust:0.4775" font-size="38.98" stroke="#000" stroke-width="0.55" textLength="438.4" lengthAdjust="spacingAndGlyphs">Community weighted mean</text>
<text transform="translate(81.90,1170.38) rotate(-90)" font-family="Carlito, 'Liberation Sans', sans-serif" style="font-size-adjust:0.4775" font-size="39.13" stroke="#000" stroke-width="0.55" textLength="398.6" lengthAdjust="spacingAndGlyphs">thermal niche breadth <tspan font-size="25.04" dy="-12.13">o</tspan><tspan dy="12.13">C</tspan></text>
<text transform="translate(1021.00,559.47) rotate(-90)" font-family="Carlito, 'Liberation Sans', sans-serif" style="font-size-adjust:0.4775" font-size="39.23" stroke="#000" stroke-width="0.55" textLength="533.7" lengthAdjust="spacingAndGlyphs">Community temperature index <tspan font-size="25.10" dy="-12.16">o</tspan><tspan dy="12.16">C</tspan></text>
<text transform="translate(1026.70,1222.57) rotate(-90)" font-family="Carlito, 'Liberation Sans', sans-serif" style="font-size-adjust:0.4775" font-size="39.02" stroke="#000" stroke-width="0.55" textLength="569.3" lengthAdjust="spacingAndGlyphs">Community thermal capital index <tspan font-size="24.97" dy="-12.10">o</tspan><tspan dy="12.10">C</tspan></text>
<text x="645.15" y="1356.60" font-family="Carlito, 'Liberation Sans', sans-serif" style="font-size-adjust:0.4775" font-size="56.32" stroke="#000" stroke-width="0.55" textLength="664.8" lengthAdjust="spacingAndGlyphs">Mean annual temperature <tspan font-size="36.04" dy="-17.46">o</tspan><tspan dy="17.46">C</tspan></text>
</svg>
</body></html>
